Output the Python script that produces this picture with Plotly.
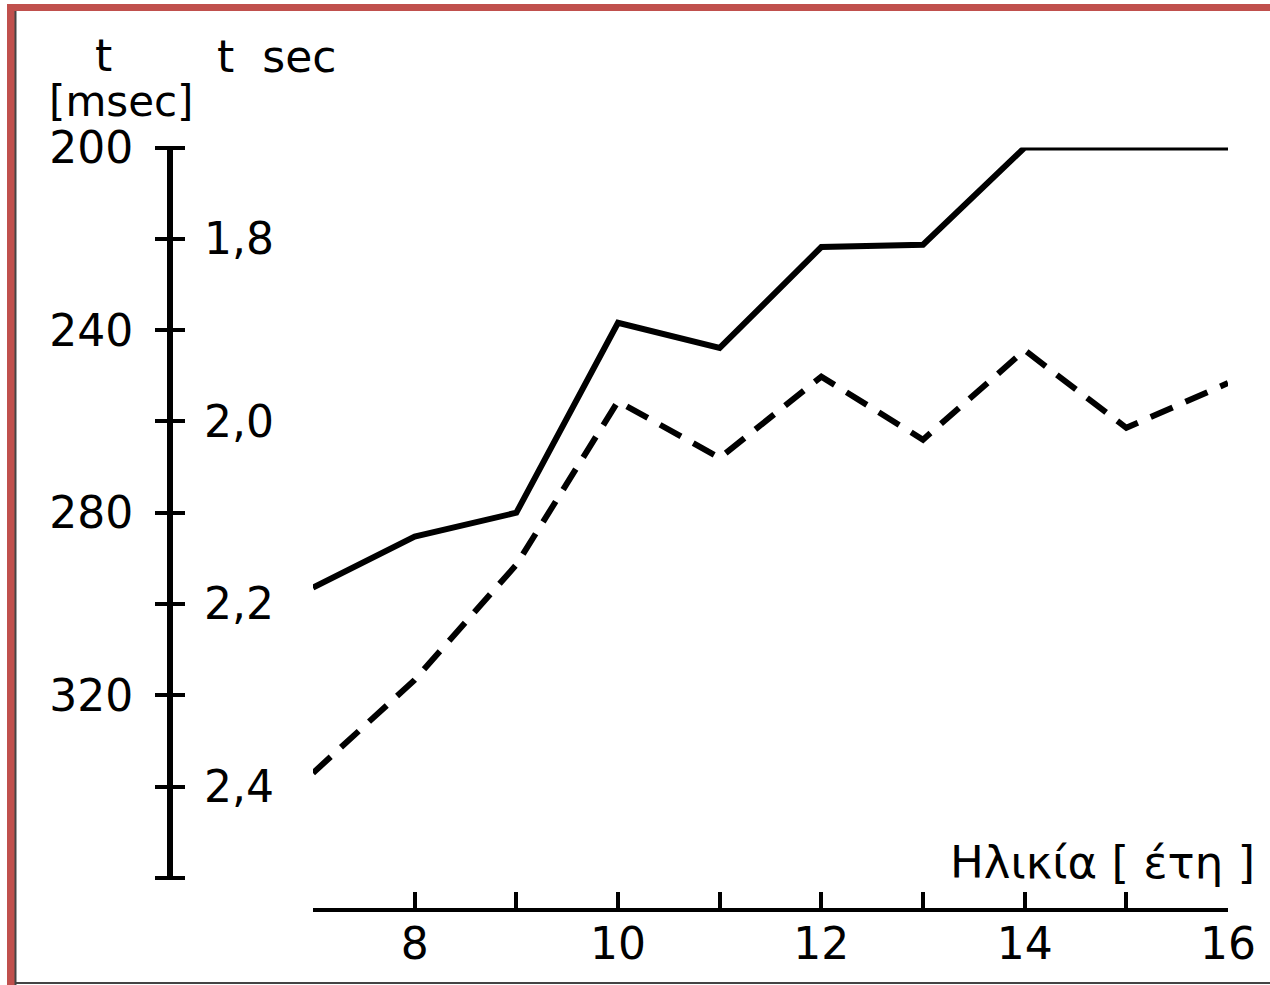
import plotly.graph_objects as go

# ---- data ----
ages = [7, 8, 9, 10, 11, 12, 13, 14, 15, 16]
t_msec = [296.4, 285.2, 280.0, 238.4, 243.9, 221.8, 221.3, 200.0, 200.0, 200.0]
t_sec = [2.385, 2.283, 2.157, 1.978, 2.040, 1.951, 2.020, 1.922, 2.007, 1.958]

msec_ticks = [200, 240, 280, 320, 360]
msec_labels = ["200", "240", "280", "320", ""]
sec_ticks = [1.8, 2.0, 2.2, 2.4]
sec_labels = ["1,8", "2,0", "2,2", "2,4"]
age_ticks = [7, 8, 9, 10, 11, 12, 13, 14, 15, 16]
age_labels = ["", "8", "", "10", "", "12", "", "14", "", "16"]

W, H = 1270, 985
FONT = "DejaVu Sans"
RED = "#C0504D"


def px(x):
    return x / W


def py(y):
    return 1 - y / H


fig = go.Figure()
fig.add_trace(go.Scatter(x=ages, y=t_msec, mode="lines", yaxis="y",
                         line=dict(color="black", width=6), showlegend=False,
                         cliponaxis=False))
fig.add_trace(go.Scatter(x=ages, y=t_sec, mode="lines", yaxis="y2",
                         line=dict(color="black", width=6, dash="24px,14px"),
                         showlegend=False, cliponaxis=False))
fig.add_trace(go.Scatter(x=[], y=[], yaxis="y3", showlegend=False))
fig.add_trace(go.Scatter(x=[], y=[], yaxis="y4", showlegend=False))

ydom = [py(878), py(147.5)]
tickfont = dict(family=FONT, size=44, color="black")

common_y = dict(domain=ydom, anchor="free", showgrid=False, automargin=False,
                zeroline=False, tickcolor="black", tickfont=tickfont)

fig.update_layout(
    width=W, height=H, autosize=False,
    margin=dict(l=0, r=0, t=0, b=0, pad=0),
    paper_bgcolor="white", plot_bgcolor="white",
    xaxis=dict(domain=[px(313), px(1228)], range=[7, 16], anchor="free",
               position=py(910), showline=True, linewidth=4, linecolor="black",
               ticks="inside", ticklen=16, tickwidth=4, tickcolor="black",
               tickvals=age_ticks, ticktext=age_labels, tickfont=tickfont,
               showgrid=False, zeroline=False, ticklabelstandoff=-6,
               automargin=False),
    # msec axis: the drawn line and left labels
    yaxis=dict(range=[360, 200], side="left", position=px(170), showline=True,
               linewidth=6, linecolor="black", ticks="", tickvals=msec_ticks,
               ticktext=msec_labels, ticklabelstandoff=25, **common_y),
    # sec axis: right labels
    yaxis2=dict(range=[2.5, 1.7], side="right", overlaying="y", position=px(170),
                showline=False, ticks="", tickvals=sec_ticks, ticktext=sec_labels,
                ticklabelstandoff=33, **common_y),
    # crossing tick marks for both scales
    yaxis3=dict(range=[360, 200], side="left", overlaying="y", position=px(185),
                showline=False, ticks="outside", ticklen=30, tickwidth=4,
                tickvals=msec_ticks, showticklabels=False, **common_y),
    yaxis4=dict(range=[2.5, 1.7], side="left", overlaying="y", position=px(185),
                showline=False, ticks="outside", ticklen=30, tickwidth=4,
                tickvals=sec_ticks, showticklabels=False, **common_y),
)

ann_font = dict(family=FONT, size=44, color="black")
fig.add_annotation(x=px(103), y=py(55), xref="paper", yref="paper", text="t",
                   showarrow=False, font=ann_font, xanchor="center", yanchor="middle")
fig.add_annotation(x=px(121), y=py(101), xref="paper", yref="paper", text="[msec]",
                   showarrow=False, font=dict(family=FONT, size=42, color="black"),
                   xanchor="center", yanchor="middle")
fig.add_annotation(x=px(215), y=py(56), xref="paper", yref="paper", text="t  sec",
                   showarrow=False, font=ann_font, xanchor="left", yanchor="middle")
fig.add_annotation(x=px(1257), y=py(862), xref="paper", yref="paper",
                   text="Ηλικία [ έτη ]", showarrow=False,
                   font=dict(family=FONT, size=45, color="black"),
                   xanchor="right", yanchor="middle")

# frame of the scanned picture
fig.add_shape(type="rect", xref="paper", yref="paper", x0=px(7), x1=px(15),
              y0=0, y1=py(4), fillcolor=RED, line_width=0, layer="above")
fig.add_shape(type="rect", xref="paper", yref="paper", x0=px(7), x1=1,
              y0=py(11), y1=py(4), fillcolor=RED, line_width=0, layer="above")
fig.add_shape(type="line", xref="paper", yref="paper", x0=px(15.5), x1=px(15.5),
              y0=0, y1=py(11), line=dict(color="#444444", width=2), layer="above")
fig.add_shape(type="line", xref="paper", yref="paper", x0=px(15), x1=1,
              y0=py(983), y1=py(983), line=dict(color="#444444", width=2), layer="above")

fig.write_html("out.html")
